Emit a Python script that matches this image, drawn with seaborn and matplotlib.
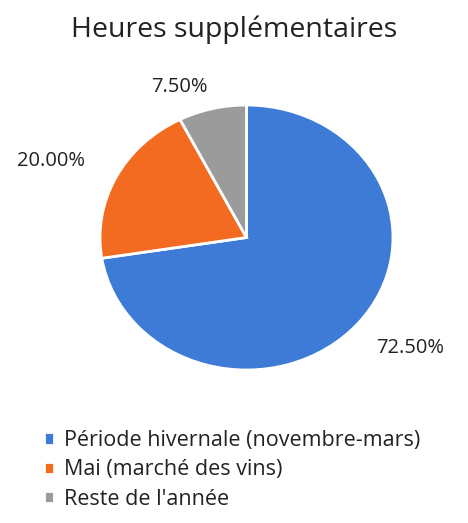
import matplotlib.pyplot as plt
import seaborn as sns
import numpy as np

categories = ['Période hivernale (novembre-mars)', 'Mai (marché des vins)', "Reste de l'année"]
shares = [72.5, 20.0, 7.5]
colors = ['#3d7bd6', '#f36b21', '#9b9b9b']

sns.set_theme(style='white')
plt.rcParams['font.family'] = ['Open Sans', 'DejaVu Sans']

fig = plt.figure(figsize=(4.68, 5.23), dpi=100)
ax = fig.add_axes([0.2137, 0.2925, 0.626, 0.5067])

wedges, _ = ax.pie(shares, colors=colors, startangle=90, counterclock=False,
                   wedgeprops=dict(edgecolor='white', linewidth=2))
ax.set_aspect('auto')
ax.set_xlim(-1, 1)
ax.set_ylim(-1, 1)

# data labels placed outside, Excel "best fit" style
label_r = [1.394, 1.456, 1.225]
label_shift = [3.7, 3.5, 8.6]
for w, v, r, s in zip(wedges, shares, label_r, label_shift):
    ang = np.deg2rad((w.theta1 + w.theta2) / 2 + s)
    ax.text(r * np.cos(ang), r * np.sin(ang), f"{v:.2f}%", ha='center', va='center',
            fontsize=14.5, color='#222222')

fig.text(0.5, 0.943, 'Heures supplémentaires', ha='center', va='center', fontsize=20.5, color='#222222')

fig.legend(wedges, categories, loc='upper left', bbox_to_anchor=(0.075, 0.194), frameon=False,
           fontsize=15.5, handlelength=0.5, handleheight=0.5, handletextpad=0.45, labelspacing=0.38,
           borderaxespad=0, labelcolor='#222222')

fig.savefig('out.png', dpi=100)
